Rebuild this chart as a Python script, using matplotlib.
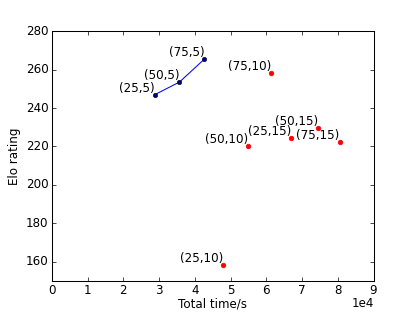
import matplotlib
matplotlib.use('Agg')
import matplotlib.pyplot as plt

plt.style.use('classic')

# (rollouts, depth) configs -> total time and elo
line_labels = ['(25,5)', '(50,5)', '(75,5)']
line_time = [28850, 35700, 42700]
line_elo = [247, 253.5, 265.5]

dot_labels = ['(75,10)', '(50,10)', '(25,15)', '(50,15)', '(75,15)', '(25,10)']
dot_time = [61300, 54900, 67000, 74600, 80500, 48000]
dot_elo = [258, 220, 224.5, 229.5, 222.5, 158]

FS = 8.6
fig, ax = plt.subplots(figsize=(4.15, 3.12), dpi=100)
fig.patch.set_facecolor('white')

ax.plot(line_time, line_elo, 'b-', linewidth=0.75)
ax.plot(line_time, line_elo, 'o', color='navy', markersize=3.3, markeredgecolor='black', markeredgewidth=0.3)
ax.plot(dot_time, dot_elo, 'o', color='red', markersize=3.3, markeredgecolor='red')

for lab, x, y in zip(line_labels + dot_labels, line_time + dot_time, line_elo + dot_elo):
    ax.annotate(lab, (x, y), ha='right', va='bottom', fontsize=FS)

ax.set_xlim(0, 90000)
ax.set_ylim(150, 280)
ax.set_xticks(range(0, 90001, 10000))
ax.set_xticklabels([str(i) for i in range(10)])
ax.tick_params(labelsize=FS, length=3, pad=2.5)
ax.tick_params(which='minor', length=0)
for s in ax.spines.values():
    s.set_linewidth(0.75)
ax.set_xlabel('Total time/s', fontsize=FS, labelpad=0.5)
ax.set_ylabel('Elo rating', fontsize=FS, labelpad=3)

fig.subplots_adjust(left=0.125, right=0.9, bottom=0.1, top=0.9)
# scale factor shown under the last tick, like the sci offset text
fig.text(0.902, 0.007, '1e4', ha='right', va='bottom', fontsize=FS)
fig.savefig('out.png', dpi=100, facecolor='white')
